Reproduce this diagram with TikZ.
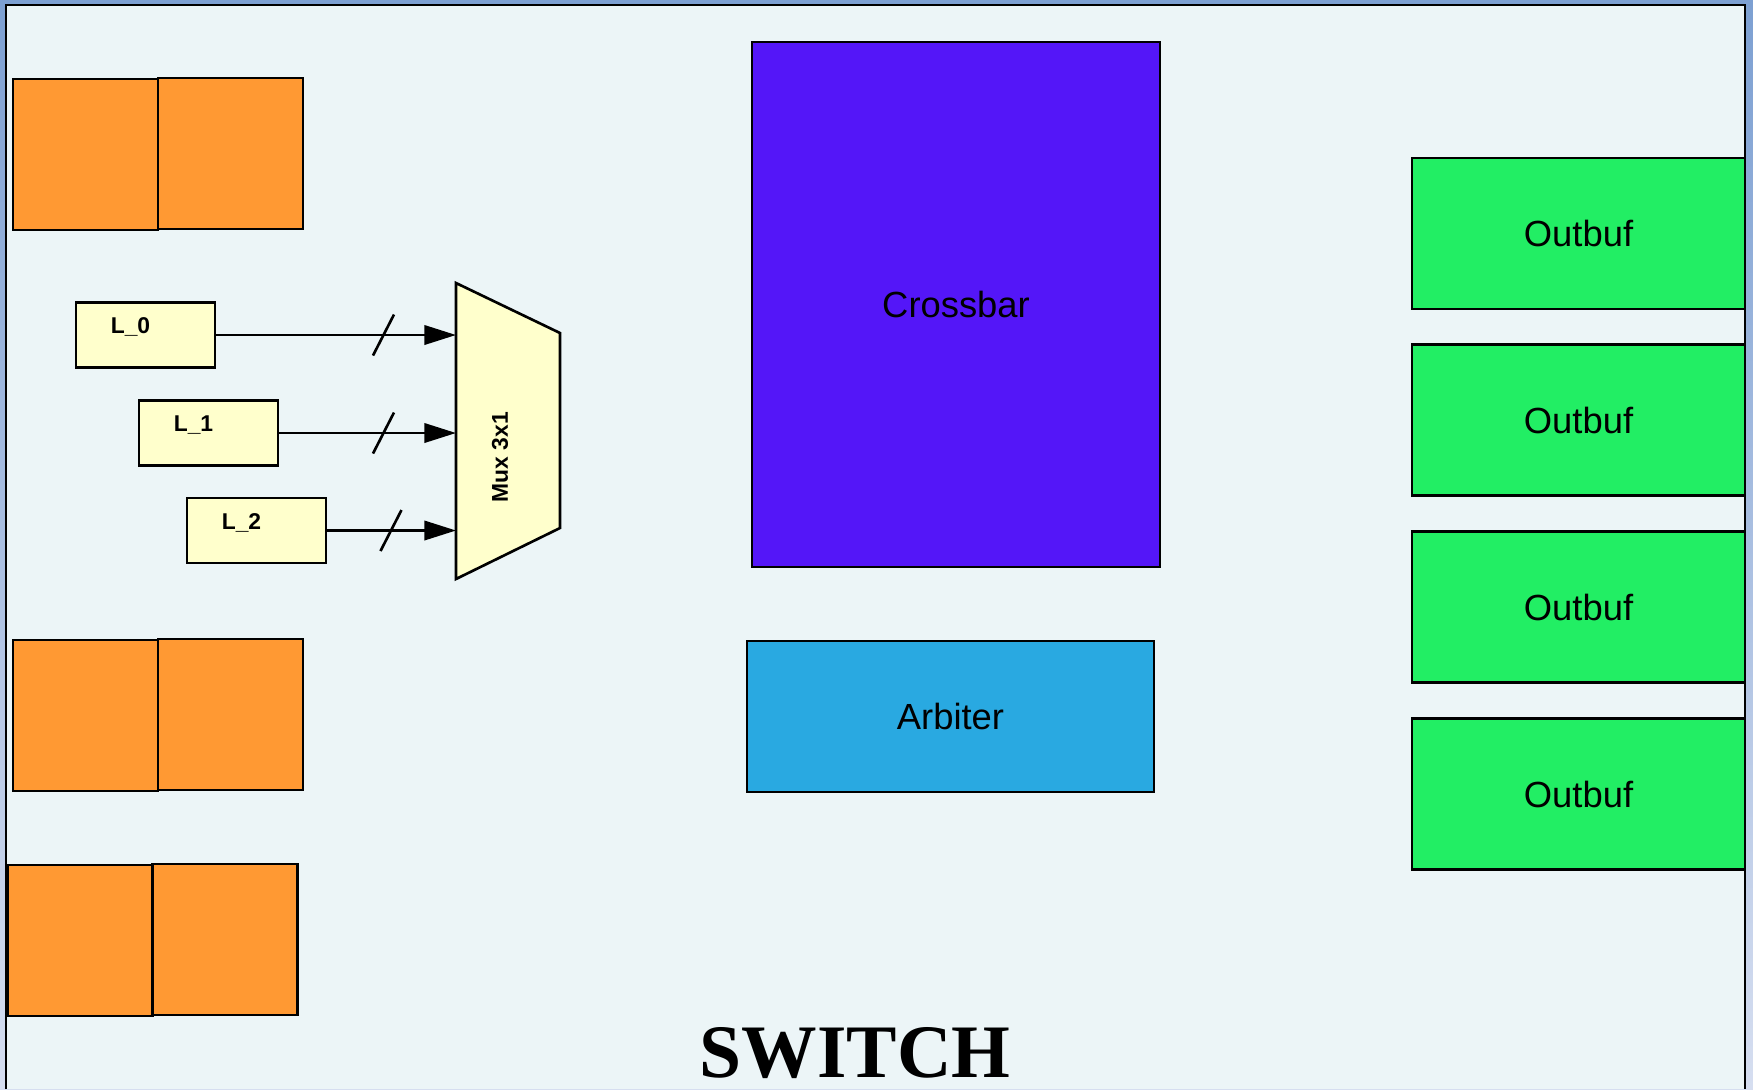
\documentclass[tikz,border=0pt]{standalone}
\usepackage{fontspec}
\setmainfont{Liberation Sans}
\newfontfamily\titlefont{Liberation Serif}
\usetikzlibrary{arrows.meta}

\definecolor{frametop}{RGB}{125,160,210}
\definecolor{framebot}{RGB}{214,222,240}
\definecolor{sheet}{RGB}{236,245,247}
\definecolor{qorange}{RGB}{255,153,51}
\definecolor{lyellow}{RGB}{255,255,204}
\definecolor{xbarblue}{RGB}{84,22,248}
\definecolor{arbblue}{RGB}{41,169,225}
\definecolor{ogreen}{RGB}{34,238,100}

\begin{document}
\begin{tikzpicture}[x=0.02cm, y=-0.02cm,
  block/.style={draw, line width=1.5pt, inner sep=0pt, outer sep=0pt,
                font=\fontsize{20.7}{24}\selectfont},
  qbox/.style={block, fill=qorange, minimum width=2.9cm, minimum height=3.02cm},
  lbox/.style={block, fill=lyellow, minimum width=2.78cm, minimum height=1.3cm},
  ltext/.style={font=\bfseries\fontsize{13}{15}\selectfont, inner sep=0pt},
  outbuf/.style={block, fill=ogreen, minimum width=6.66cm, minimum height=3.02cm},
  bus/.style={line width=1.5pt, -{Triangle[length=18pt,width=11pt]}},
]
  % Frame
  \shade[top color=frametop, bottom color=framebot] (0,0) rectangle (1753,1089);
  \fill[sheet] (6,5) rectangle (1745,1089);
  \draw[line width=1.6pt] (6,1089) -- (6,5) -- (1745,5) -- (1745,1089);
  \useasboundingbox (0,0) rectangle (1753,1089);

  % Input queues
  \foreach \i/\x/\y in {0/85.5/154.5, 1/85.5/715.5, 2/80/940.5} {
    \node[qbox] (q\i a) at (\x,\y) {};
    \node[qbox] (q\i b) at (\x+145,\y-1) {};
  }

  % Mux
  \draw[line width=1.5pt, fill=lyellow] (456,283) -- (560,333) -- (560,528) -- (456,579) -- cycle;
  \node[ltext, rotate=90] (mux) at (500,457) {Mux 3x1};
  \coordinate (mux0) at (456,335);
  \coordinate (mux1) at (456,433);
  \coordinate (mux2) at (456,530.5);

  % Links
  \foreach \i/\x/\y/\sx in {0/145.5/335/383.5, 1/208.5/433/383.5, 2/256.5/530.5/391} {
    \node[lbox] (l\i) at (\x,\y) {};
    \node[ltext] (l\i txt) at (\x-15,\y-8) {L\_\i};
    \draw[bus] (l\i.east) -- (mux\i);
    \draw[line width=1.5pt] (\sx-10.5,\y+20.5) -- (\sx+10.5,\y-20.5);
  }

  % Core
  \node[block, fill=xbarblue, minimum width=8.16cm, minimum height=10.5cm] (xbar) at (956,304.5) {Crossbar};
  \node[block, fill=arbblue, minimum width=8.14cm, minimum height=3.02cm] (arb) at (950.5,716.5) {Arbiter};

  % Output buffers
  \foreach \i/\y in {0/233.5, 1/420, 2/607, 3/794}
    \node[outbuf] (ob\i) at (1578.5,\y) {Outbuf};

  % Title
  \node[font=\titlefont\bfseries\fontsize{43}{50}\selectfont, anchor=base, inner sep=0pt] (title) at (855,1077) {SWITCH};
\end{tikzpicture}
\end{document}
